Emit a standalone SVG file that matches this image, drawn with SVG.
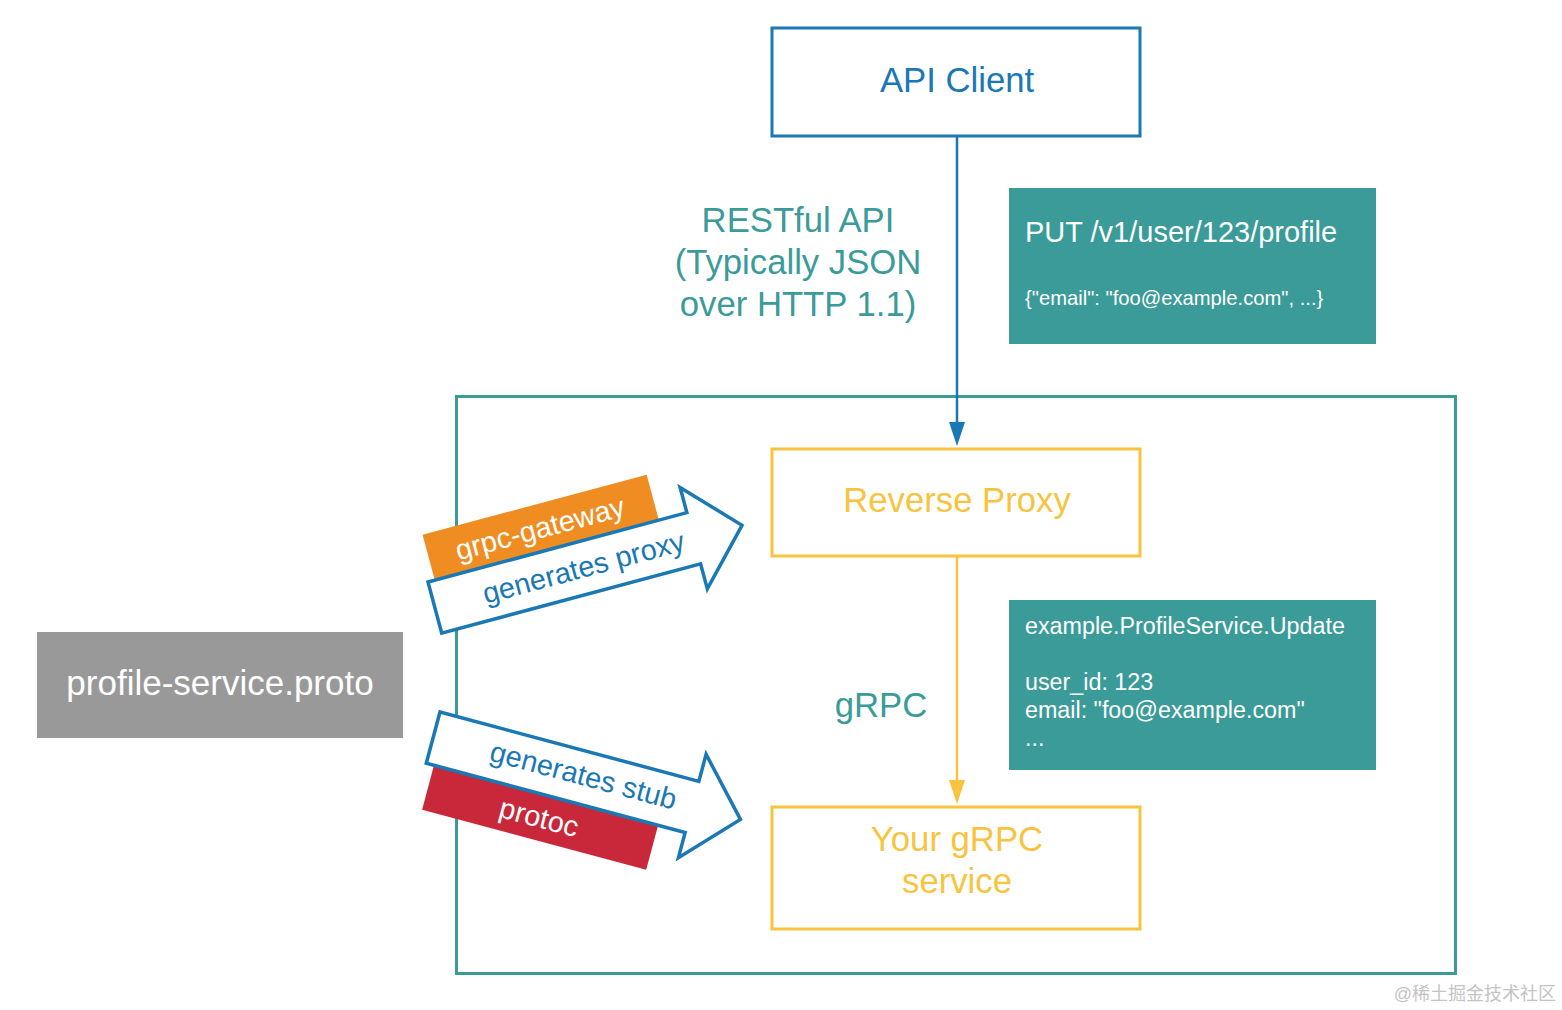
<svg xmlns="http://www.w3.org/2000/svg" width="1562" height="1010" viewBox="0 0 1562 1010">
<style>
text{font-family:"Liberation Sans",Arial,sans-serif}
.big{font-size:34.7px;text-anchor:middle}
.teal{fill:#3a9b98}
.blue{fill:#1a78b4}
.yel{fill:#f8c440}
.w{fill:#ffffff}
.box{fill:#ffffff;stroke-width:3}
.arr{fill:#ffffff;stroke:#1a78b4;stroke-width:3.5;stroke-linejoin:miter}
.rot{font-size:29px;text-anchor:middle}
</style>
<rect width="1562" height="1010" fill="#ffffff"/>

<g id="container">
<rect x="456.5" y="396.5" width="999" height="577" fill="none" stroke="#3a9b98" stroke-width="3"/>
</g>

<g id="connectors">
<line x1="957" y1="137" x2="957" y2="424" stroke="#1a78b4" stroke-width="2.5"/>
<polygon points="949,422 965,422 957,446" fill="#1a78b4"/>
<line x1="957" y1="557" x2="957" y2="782" stroke="#f8c440" stroke-width="2.5"/>
<polygon points="949,780 965,780 957,804" fill="#f8c440"/>
</g>

<g id="api-client">
<rect class="box" x="772" y="28" width="368" height="108" stroke="#1a78b4"/>
<text class="big blue" x="957" y="92">API Client</text>
</g>

<g id="rest-label">
<text class="big teal" x="798" y="232">RESTful API</text>
<text class="big teal" x="798" y="274">(Typically JSON</text>
<text class="big teal" x="798" y="316">over HTTP 1.1)</text>
</g>

<g id="put-note">
<rect x="1009" y="188" width="367" height="156" fill="#3a9b98"/>
<text class="w" x="1025" y="242" font-size="29">PUT /v1/user/123/profile</text>
<text class="w" x="1025" y="305" font-size="20.2">{"email": "foo@example.com", ...}</text>
</g>

<g id="reverse-proxy">
<rect class="box" x="772" y="449" width="368" height="107" stroke="#f8c440"/>
<text class="big yel" x="957" y="512">Reverse Proxy</text>
</g>

<g id="grpc-label">
<text class="big teal" x="881" y="717">gRPC</text>
</g>

<g id="rpc-note">
<rect x="1009" y="600" width="367" height="170" fill="#3a9b98"/>
<text class="w" x="1025" y="634" font-size="23.3">example.ProfileService.Update</text>
<text class="w" x="1025" y="690" font-size="23.3">user_id: 123</text>
<text class="w" x="1025" y="718" font-size="23.3">email: "foo@example.com"</text>
<text class="w" x="1025" y="746" font-size="23.3">...</text>
</g>

<g id="grpc-service">
<rect class="box" x="772" y="807" width="368" height="122" stroke="#f8c440"/>
<text class="big yel" x="957" y="851">Your gRPC</text>
<text class="big yel" x="957" y="893">service</text>
</g>

<g id="proto-file">
<rect x="37" y="632" width="366" height="106" fill="#999999"/>
<text class="w" x="220" y="695" font-size="35" text-anchor="middle">profile-service.proto</text>
</g>

<g id="gateway-arrow" transform="translate(428,582) rotate(-15)">
<rect x="7" y="-47" width="232" height="50" fill="#ef8d22"/>
<text class="rot w" x="122" y="-13">grpc-gateway</text>
<polygon class="arr" points="0,0 268,0 268,-26 318,26.5 268,79 268,53 0,53"/>
<text class="rot blue" x="154" y="36">generates proxy</text>
</g>

<g id="protoc-arrow" transform="translate(440,712) rotate(15)">
<rect x="8" y="50" width="232" height="49" fill="#c9283a"/>
<text class="rot w" x="123" y="86">protoc</text>
<polygon class="arr" points="0,0 268,0 268,-28 318,26 268,79 268,53 0,53"/>
<text class="rot blue" x="155" y="34">generates stub</text>
</g>

<g id="watermark">
<text x="1556" y="1000" font-size="18" fill="#c4c4c4" text-anchor="end" style="font-family:'Liberation Sans','Noto Sans CJK SC',sans-serif">@稀土掘金技术社区</text>
</g>
</svg>
